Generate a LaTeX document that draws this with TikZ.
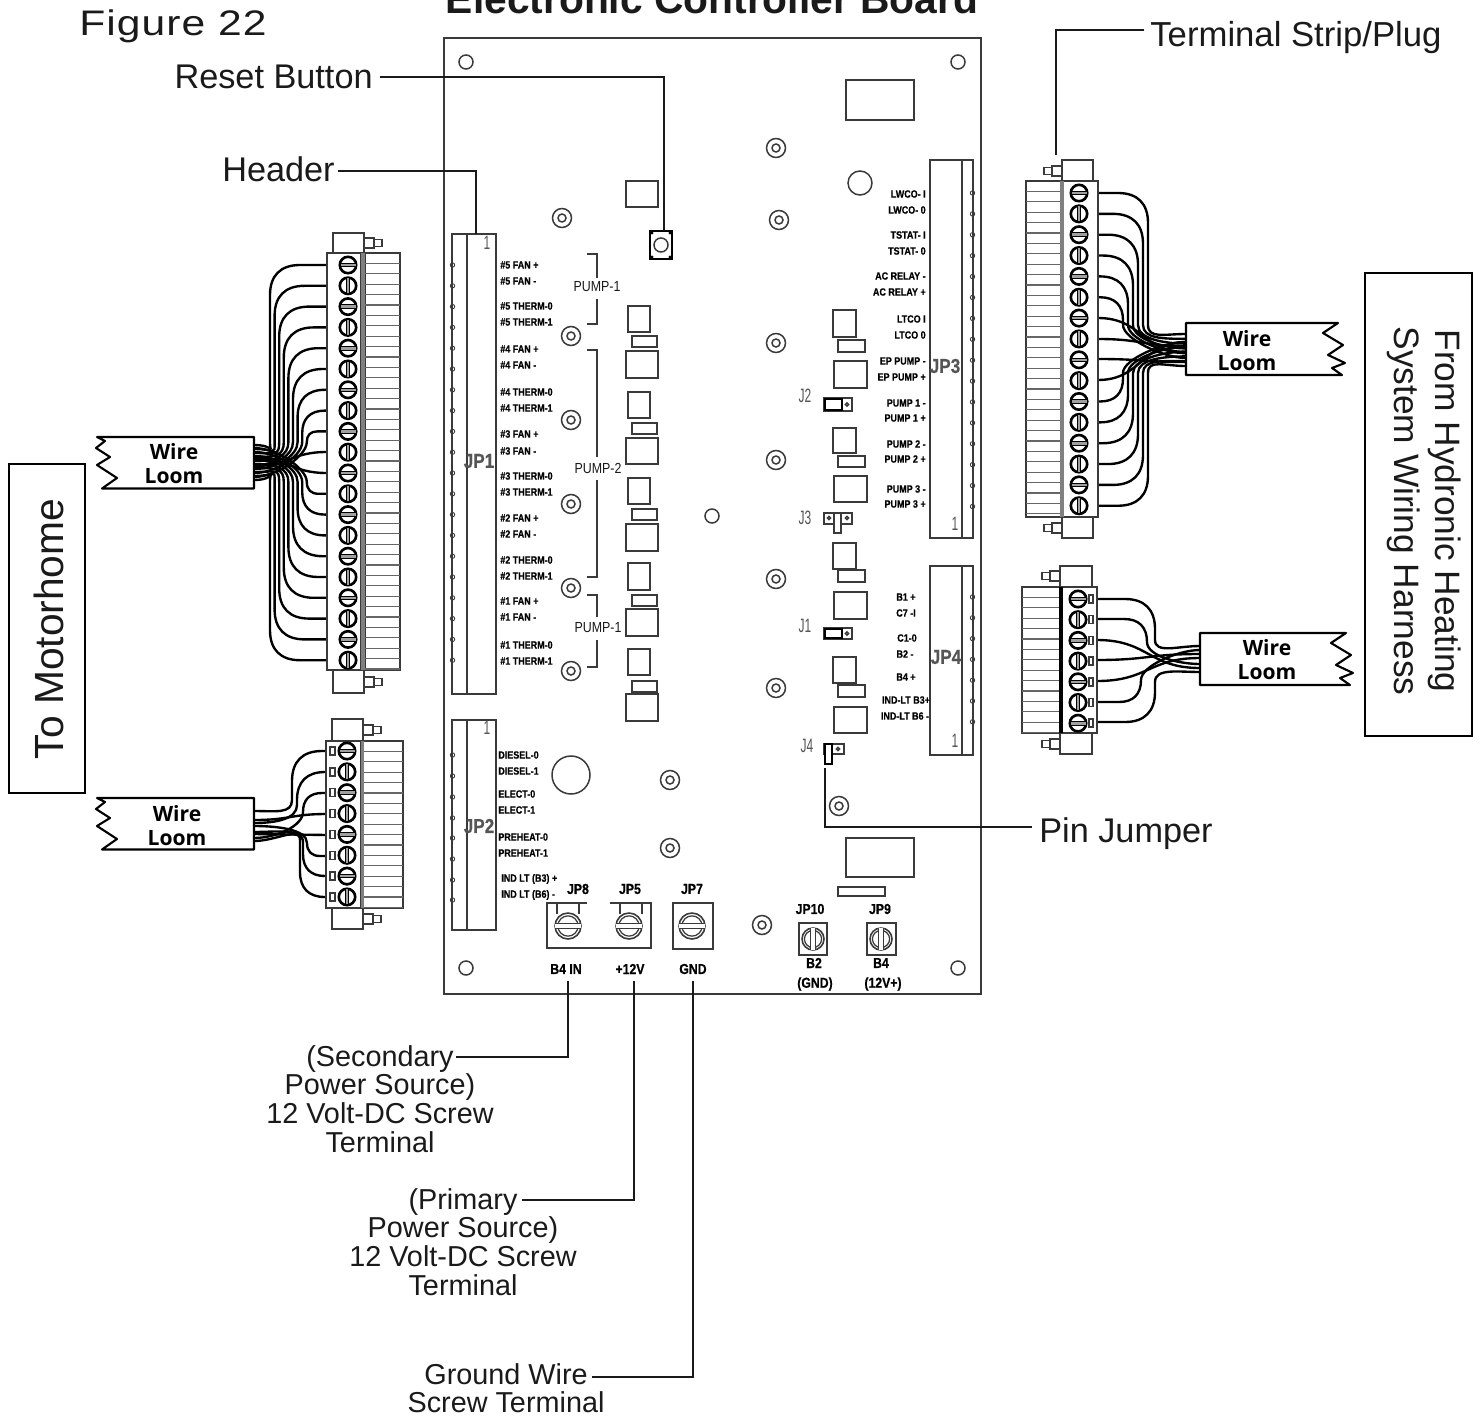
\documentclass[tikz,border=0pt]{standalone}
\usepackage{fontspec}
\setmainfont{Liberation Sans}
\newfontfamily\narrowf[FakeStretch=0.85]{Liberation Sans}
\newfontfamily\narrowb[FakeStretch=0.85,FakeBold=0.5]{Liberation Sans Bold}
\newfontfamily\jnarrow[FakeStretch=0.62]{Liberation Sans}
\newfontfamily\loomf{Open Sans}
\newfontfamily\figf[FakeStretch=1.2,LetterSpace=3]{Liberation Sans}
\definecolor{ink}{HTML}{1A1A1A}
\definecolor{bline}{HTML}{3A3A3A}
\definecolor{gtext}{HTML}{555555}
\tikzset{
 thinb/.style={draw=bline,line width=0.85pt,fill=white},
 plain/.style={draw=bline,line width=0.85pt},
 lead/.style={draw=ink,line width=1.5pt,line join=miter},
 wire/.style={draw=black,line width=1.35pt},
 biglab/.style={font=\fontsize{19.5}{16.3}\selectfont,text=ink,inner sep=0pt,align=center},
 midlab/.style={font=\fontsize{16.4}{16.3}\selectfont,text=ink,inner sep=0pt,align=center},
 sm/.style={font=\narrowb\fontsize{6}{7}\selectfont,text=black,inner sep=0pt},
 jp/.style={font=\narrowb\fontsize{8.2}{9}\selectfont,text=black,inner sep=0pt},
 jpbig/.style={font=\narrowb\fontsize{11.5}{12}\selectfont,text=gtext,inner sep=0pt},
 pump/.style={font=\narrowf\fontsize{8.3}{9}\selectfont,text=ink,inner sep=0pt,fill=white},
 jl/.style={font=\jnarrow\fontsize{11}{12}\selectfont,text=gtext,inner sep=0pt},
 loomt/.style={font=\loomf\bfseries\fontsize{12}{13.6}\selectfont,text=black,inner sep=0pt,align=center},
}
\newcommand\scr[3]{% x y angle
 \begin{scope}[shift={(#1,#2)},rotate=#3]
 \draw[draw=black,line width=1.5pt,fill=white] (0,0) circle (8.2);
 \fill[gray!75] (-7.5,-1.8) rectangle (7.5,1.8);
 \draw[black,line width=.5pt] (-7.5,-1.8) -- (7.5,-1.8) (-7.5,1.8) -- (7.5,1.8);
 \end{scope}}
\newcommand\bscr[4]{% x y r angle
 \begin{scope}[shift={(#1,#2)},rotate=#4]
 \draw[draw=bline,line width=.9pt,fill=white] (0,0) circle (#3);
 \draw[draw=bline,line width=.7pt] (0,0) circle ({#3*.78});
 \fill[white] ({-#3},-2.4) rectangle (#3,2.4);
 \draw[bline,line width=.8pt] ({-#3},-2.4) -- (#3,-2.4) ({-#3},2.4) -- (#3,2.4);
 \end{scope}}
\newcommand\standoff[2]{\draw[plain] (#1,#2) circle (9.5) circle (4);}
\newcommand\hole[2]{\draw[plain] (#1,#2) circle (7);}
\newcommand\boxr[4]{\draw[thinb] (#1,#2) rectangle (#3,#4);}
\newcommand\comb[5]{% x1 x2 ytop ybot step
 \draw[thinb] (#1,#3) rectangle (#2,#4);
 \pgfmathsetmacro\cnt{int((#4-#3)/#5)}
 \foreach \k in {1,...,\cnt}{\pgfmathsetmacro\yy{#3+\k*#5}
  \draw[gray!80!black,line width=0.65pt] (#1,\yy) -- (#2,\yy);}}
\newcommand\wa[6]{% cx y vx ve ty lx
 \pgfmathsetmacro\sg{ifthenelse(#1>#3,1,-1)}%
 \pgfmathsetmacro\vg{ifthenelse(#4>#2,1,-1)}%
 \pgfmathsetmacro\Rr{min(30,min(abs(#4-#2),abs(#1-#3)-2))}%
 \draw[wire] (#1,#2) -- ({#3+\sg*\Rr},#2) .. controls ({#3+\sg*\Rr*0.35},#2) and (#3,{#2+\vg*\Rr*0.35}) .. (#3,{#2+\vg*\Rr}) -- (#3,#4) .. controls (#3,{#4+\vg*14}) and ({#6+\sg*22},#5) .. (#6,#5);}
\newcommand\wb[4]{% cx y ty lx
 \pgfmathsetmacro\mx{(#1+#4)/2}%
 \draw[wire] (#1,#2) .. controls (\mx,#2) and (\mx,#3) .. (#4,#3);}
\newcommand\loomL[2]{% xr yt  (left end fixed at 97)
 \draw[thinb,draw=black,line width=1.2pt,line join=round,shift={(0,#2)}] (#1,0) -- (97,0) -- (105,4) -- (96,11) -- (110,20) -- (97,28) -- (117,41) -- (102,51.5) -- (#1,51.5) -- cycle;}
\newcommand\loomR[3]{% xl yt dx
 \draw[thinb,draw=black,line width=1.2pt,line join=round,shift={(#3,#2)}] ({#1-#3},0) -- (1338,0) -- (1323,10) -- (1343,22) -- (1328,32) -- (1345,40) -- (1332,45) -- (1342,52) -- ({#1-#3},52) -- cycle;}
\newcommand\tabR[2]{\draw[thinb] (#1,{#2-5}) rectangle ({#1+10},{#2+5}); \draw[thinb] ({#1+10},{#2-3.5}) rectangle ({#1+18},{#2+3.5});}
\newcommand\tabL[2]{\draw[thinb] (#1,{#2-5}) rectangle ({#1-10},{#2+5}); \draw[thinb] ({#1-10},{#2-3.5}) rectangle ({#1-18},{#2+3.5});}
\begin{document}
\begin{tikzpicture}[x=0.02cm,y=-0.02cm]
\useasboundingbox (0,0) rectangle (1481,1416);
\clip (0,0) rectangle (1481,1416);
\fill[white] (0,0) rectangle (1481,1416);
% titles
\node[anchor=base west,inner sep=0pt,font=\figf\fontsize{20.2}{22}\selectfont,text=ink] (figlab) at (79,36) {Figure 22};
\node[anchor=base,inner sep=0pt,font=\bfseries\fontsize{23.2}{25}\selectfont,text=ink] (title) at (712,14) {Electronic Controller Board};
% board
\draw[draw=bline,line width=1.1pt] (444,38) rectangle (981,994);
\hole{466}{62}\hole{958}{62}\hole{466}{968}\hole{958}{968}\hole{712}{516}
\draw[plain] (860,183) circle (12);
\draw[plain] (571,775) circle (19);
\foreach \a/\b in {776/148,779/220,776/343,776/460,776/579,776/688,562/218,571/336,571/420,571/504,571/588,571/671,670/780,670/848,762/925,839/806}{\standoff{\a}{\b}}
\boxr{846}{80}{914}{120}
\boxr{846}{838}{914}{877}
\boxr{838}{887}{885}{896}
\boxr{626}{181}{658}{207}
% reset button
\draw[draw=black,line width=1pt] (650,231) rectangle (672,259);
\draw[plain] (661,245) circle (7);
\foreach \a/\b in {652/233,670/233,652/257,670/257}{\fill[black] (\a,\b) circle (1.6);}
% JP1, JP2
\boxr{452}{234}{496}{694}\draw[plain] (467,234) -- (467,694);
\boxr{452}{720}{496}{930}\draw[plain] (467,720) -- (467,930);
\foreach \i in {0,...,19}{\pgfmathsetmacro\yy{265+20.8*\i}\draw[bline,line width=.5pt] (452.5,\yy) circle (2.2);}
\foreach \yy in {755,776,797,818,838,859,880,900}{\draw[bline,line width=.5pt] (452.5,\yy) circle (2.2);}
% JP3, JP4
\boxr{930}{160}{973}{538}\draw[plain] (962,160) -- (962,538);
\boxr{930}{566}{973}{755}\draw[plain] (962,566) -- (962,755);
\foreach \i in {0,...,15}{\pgfmathsetmacro\yy{193+20.9*\i}\draw[bline,line width=.5pt] (972.5,\yy) circle (2.2);}
\foreach \i in {0,...,6}{\pgfmathsetmacro\yy{597+20.8*\i}\draw[bline,line width=.5pt] (972.5,\yy) circle (2.2);}
\node[jpbig] (jp1t) at (479,461) {JP1};
\node[jpbig] (jp2t) at (479,826) {JP2};
\node[jpbig] (jp3t) at (945,366) {JP3};
\node[jpbig] (jp4t) at (946,657) {JP4};
\node[jl] (n1a) at (487,243) {1};
\node[jl] (n1b) at (487,728) {1};
\node[jl] (n1c) at (955,524) {1};
\node[jl] (n1d) at (955,741) {1};
% JP1 labels
\foreach \t/\yy in {\#5 FAN +/265,\#5 FAN -/281,\#5 THERM-0/306,\#5 THERM-1/322,\#4 FAN +/349,\#4 FAN -/365,\#4 THERM-0/392,\#4 THERM-1/408,\#3 FAN +/434,\#3 FAN -/451,\#3 THERM-0/476,\#3 THERM-1/492,\#2 FAN +/518,\#2 FAN -/534,\#2 THERM-0/560,\#2 THERM-1/576,\#1 FAN +/601,\#1 FAN -/617,\#1 THERM-0/645,\#1 THERM-1/661}{\node[sm,anchor=west] at (500,\yy) {\t};}
% JP2 labels
\foreach \t/\yy in {DIESEL-0/755,DIESEL-1/771,ELECT-0/794,ELECT-1/810,PREHEAT-0/837,PREHEAT-1/853}{\node[sm,anchor=west] at (498,\yy) {\t};}
\node[sm,anchor=west] (ib3) at (501,879) {IND LT (B3) +};
\node[sm,anchor=west] (ib6) at (501,895) {IND LT (B6) -};
% JP3 labels
\foreach \t/\yy in {LWCO- I/194,LWCO- 0/210,TSTAT- I/235,TSTAT- 0/251,AC RELAY -/276,AC RELAY +/292,LTCO I/319,LTCO 0/335,EP PUMP -/361,EP PUMP +/377,PUMP 1 -/403,PUMP 1 +/418,PUMP 2 -/444,PUMP 2 +/459,PUMP 3 -/489,PUMP 3 +/504}{\node[sm,anchor=east] at (926,\yy) {\t};}
% JP4 labels
\foreach \t/\xx/\yy in {B1 +/906/597,C7 -I/906/613,C1-0/907/638,B2 -/905/654,B4 +/906/677,IND-LT B3+/906/700,IND-LT B6 -/905/716}{\node[sm] at (\xx,\yy) {\t};}
% Pump brackets
\draw[plain,line width=1.2pt] (587,254) -- (597,254) -- (597,278) (597,299) -- (597,324) -- (587,324);
\draw[plain,line width=1.2pt] (587,350) -- (597,350) -- (597,457) (597,480) -- (597,577) -- (587,577);
\draw[plain,line width=1.2pt] (587,595) -- (597,595) -- (597,617) (597,640) -- (597,667) -- (587,667);
\node[pump] (p1a) at (597,287) {PUMP-1};
\node[pump] (p2) at (598,468) {PUMP-2};
\node[pump] (p1b) at (598,628) {PUMP-1};
% left relays
\foreach \a/\b/\c/\d/\e/\f in {306/332/336/347/351/378,392/418/423/434/438/464,478/504/509/520/524/551,563/590/595/606/609/636,649/675/681/692/694/721}{
 \boxr{628}{\a}{650}{\b}\boxr{632}{\c}{657}{\d}\boxr{626}{\e}{658}{\f}}
% right relays
\foreach \a/\b/\c/\d/\e/\f in {310/337/340/352/361/388,428/453/456/467/476/502,543/569/570/582/592/619,657/683/685/697/707/733}{
 \boxr{833}{\a}{856}{\b}\boxr{838}{\c}{865}{\d}\boxr{834}{\e}{867}{\f}}
% J jumpers
\node[jl] (j2) at (805,396) {J2};
\node[jl] (j3) at (805,518) {J3};
\node[jl] (j1) at (805,626) {J1};
\node[jl] (j4) at (807,746) {J4};
\boxr{824}{398}{852}{411}\draw[draw=black,line width=1pt] (825,399) rectangle (842,410);\draw[plain] (847,404.5) circle (1.6);
\boxr{824}{513}{852}{524}\draw[plain] (829,518) circle (1.6) (847,518) circle (1.6);\draw[thinb] (834,513) rectangle (841,533);
\boxr{824}{628}{852}{639}\draw[draw=black,line width=1pt] (825,629) rectangle (842,638);\draw[plain] (847,633.5) circle (1.6);
\boxr{824}{744}{844}{754}\draw[plain] (838,749) circle (1.6);\draw[thinb,draw=black] (825,744) rectangle (832,764);
% bottom terminals
\draw[plain,line width=1pt] (587,903) -- (547,903) -- (547,948) -- (651,948) -- (651,903) -- (610,903);
\draw[plain] (557,903) -- (557,914) (579,903) -- (579,914) (620,903) -- (620,914) (642,903) -- (642,914);
\boxr{673}{903}{713}{949}
\bscr{568}{926}{13}{0}\bscr{629}{926}{13}{0}\bscr{692}{926}{13}{0}
\boxr{799}{923}{827}{955}\boxr{867}{923}{896}{955}
\bscr{813}{939}{11}{90}\bscr{881}{939}{11}{90}
\node[jp] (jp8) at (578,889) {JP8};
\node[jp] (jp5) at (630,889) {JP5};
\node[jp] (jp7) at (692,889) {JP7};
\node[jp] (jp10) at (810,909) {JP10};
\node[jp] (jp9) at (880,909) {JP9};
\node[jp] (b4in) at (566,969) {B4 IN};
\node[jp] (p12) at (630,969) {+12V};
\node[jp] (gnd) at (693,969) {GND};
\node[jp] (b2) at (814,963) {B2};
\node[jp] (b2g) at (815,984) {(GND)};
\node[jp] (b4) at (881,963) {B4};
\node[jp] (b4p) at (883,984) {(12V+)};
% leaders and labels
\node[biglab,anchor=east] (reset) at (373,77) {Reset Button};
\coordinate (resetpt) at (664,231);
\draw[lead] (reset.east) ++(7,0) -| (resetpt);
\node[biglab,anchor=east] (header) at (335,169) {Header};
\coordinate (headerpt) at (476,234);
\draw[lead] (header.east) ++(3,2) -| (headerpt);
\node[biglab,anchor=west,font=\fontsize{19.75}{16.3}\selectfont] (strip) at (1150,38) {Terminal Strip/Plug};
\coordinate (strippt) at (1056,155);
\draw[lead] (strip.west) ++(-6,-8) -| (strippt);
\node[biglab,anchor=west] (jumper) at (1039,834) {Pin Jumper};
\coordinate (jumperpt) at (825,768);
\draw[lead] (jumper.west) ++(-7,-7) -| (jumperpt);
\node[midlab,anchor=north] (sec) at (380,1045) {(Secondary\\Power Source)\\12 Volt-DC Screw\\Terminal};
\coordinate (secpt) at (568,981); \coordinate (secend) at (456,1057);
\draw[lead] (secend) -| (secpt);
\node[midlab,anchor=north] (pri) at (463,1188) {(Primary\\Power Source)\\12 Volt-DC Screw\\Terminal};
\coordinate (pript) at (634,981); \coordinate (priend) at (522,1200);
\draw[lead] (priend) -| (pript);
\node[midlab,anchor=north] (gw) at (506,1363) {Ground Wire\\Screw Terminal};
\coordinate (gwpt) at (693,981); \coordinate (gwend) at (592,1377);
\draw[lead] (gwend) -| (gwpt);
% outer boxes
\draw[draw=black,line width=1.3pt] (9,464) rectangle (85,793);
\node[rotate=90,inner sep=0pt,font=\fontsize{23.2}{24}\selectfont,text=ink] (motor) at (49,629) {To Motorhome};
\draw[draw=black,line width=1.3pt] (1365,273) rectangle (1472,736);
\node[rotate=-90,inner sep=0pt,align=center,font=\fontsize{20.1}{23.6}\selectfont,text=ink] (hyd) at (1424,511) {From Hydronic Heating\\System Wiring Harness};
% wires: top-left connector
\foreach \i in {0,...,19}{
 \pgfmathsetmacro\yy{265+20.8*\i}
 \ifnum\i<9 \pgfmathsetmacro\vx{270+4.6*\i}\pgfmathsetmacro\ty{445+4*\i}\wa{327}{\yy}{\vx}{442}{\ty}{254}\fi
 \ifnum\i>10 \pgfmathsetmacro\vx{270+4.6*(19-\i)}\pgfmathsetmacro\ty{480-4*(19-\i)}\wa{327}{\yy}{\vx}{482}{\ty}{254}\fi
}
\wb{327}{452}{466}{254}
\wb{327}{473}{458}{254}
% bottom-left connector
\foreach \yy/\vx/\ve/\ty in {751/292/800/811,772/297/805/823,793/303/812/838,897/300/840/841,876/303/842/832,856/307/843/826}{\wa{327}{\yy}{\vx}{\ve}{\ty}{254}}
\foreach \yy/\ty in {814/820,835/834}{\wb{327}{\yy}{\ty}{254}}
% top-right connector
\foreach \i in {0,...,15}{
 \pgfmathsetmacro\yy{193+20.85*\i}
 \ifnum\i<6 \pgfmathsetmacro\vx{1148-5*\i}\pgfmathsetmacro\ty{334+4.8*\i}\wa{1098}{\yy}{\vx}{325}{\ty}{1186}\fi
 \ifnum\i>9 \pgfmathsetmacro\vx{1148-5*(15-\i)}\pgfmathsetmacro\ty{366-4.8*(15-\i)}\wa{1098}{\yy}{\vx}{373}{\ty}{1186}\fi
}
\foreach \yy/\ty in {318/352,339/346,359/362,380/342}{\wb{1098}{\yy}{\ty}{1186}}
% bottom-right connector
\foreach \yy/\vx/\ve/\ty in {599/1155/640/646,619/1147/642/664,702/1141/680/650,722/1155/682/672}{\wa{1097}{\yy}{\vx}{\ve}{\ty}{1200}}
\foreach \yy/\ty in {640/668,660/654,681/658}{\wb{1097}{\yy}{\ty}{1200}}
% looms
\loomL{254}{437}
\loomL{254}{798}
\loomR{1186}{323}{0}
\loomR{1200}{633}{8}
\node[loomt] (lm1) at (174,464) {Wire\\Loom};
\node[loomt] (lm2) at (177,826) {Wire\\Loom};
\node[loomt] (lm3) at (1247,351) {Wire\\Loom};
\node[loomt] (lm4) at (1267,660) {Wire\\Loom};
% connector A (left upper)
\draw[thinb] (333,233) rectangle (364,253); \tabR{364}{243}
\draw[thinb] (333,670) rectangle (364,693); \tabR{364}{682}
\comb{365}{400}{253}{670}{10.4}
\draw[thinb] (327,253) rectangle (361,670);
\fill[gray] (361,253) rectangle (364.5,670);
\foreach \i in {0,...,19}{\pgfmathsetmacro\yy{265+20.8*\i}\pgfmathsetmacro\an{mod(\i,2)*90}\scr{348}{\yy}{\an}}
% connector B (left lower)
\draw[thinb] (332,719) rectangle (363,741); \tabR{363}{730}
\draw[thinb] (332,908) rectangle (363,929); \tabR{363}{919}
\comb{363}{403}{741}{908}{10.4}
\draw[thinb] (326,741) rectangle (361,908);
\fill[gray] (361,741) rectangle (364,908);
\foreach \i in {0,...,7}{\pgfmathsetmacro\yy{751+20.85*\i}\pgfmathsetmacro\an{mod(\i,2)*90}\scr{347}{\yy}{\an}\boxr{330}{\yy-4}{335}{\yy+4}}
% connector C (right upper)
\draw[thinb] (1062,160) rectangle (1093,181); \tabL{1062}{171}
\draw[thinb] (1062,517) rectangle (1093,538); \tabL{1062}{528}
\comb{1026}{1062}{181}{517}{10.4}
\draw[thinb] (1063,181) rectangle (1098,517);
\fill[gray] (1060,181) rectangle (1063.5,517);
\foreach \i in {0,...,15}{\pgfmathsetmacro\yy{193+20.85*\i}\pgfmathsetmacro\an{mod(\i,2)*90}\scr{1079}{\yy}{\an}}
% connector D (right lower)
\draw[thinb] (1060,566) rectangle (1092,587); \tabL{1060}{576}
\draw[thinb] (1060,733) rectangle (1092,754); \tabL{1060}{744}
\comb{1022}{1060}{587}{733}{10.4}
\draw[thinb] (1062,587) rectangle (1097,733);
\fill[black] (1059,587) rectangle (1062.5,733);
\foreach \i in {0,...,6}{\pgfmathsetmacro\yy{599+20.7*\i}\pgfmathsetmacro\an{mod(\i,2)*90}\scr{1078}{\yy}{\an}\boxr{1089}{\yy-4}{1093}{\yy+4}}
\end{tikzpicture}
\end{document}
